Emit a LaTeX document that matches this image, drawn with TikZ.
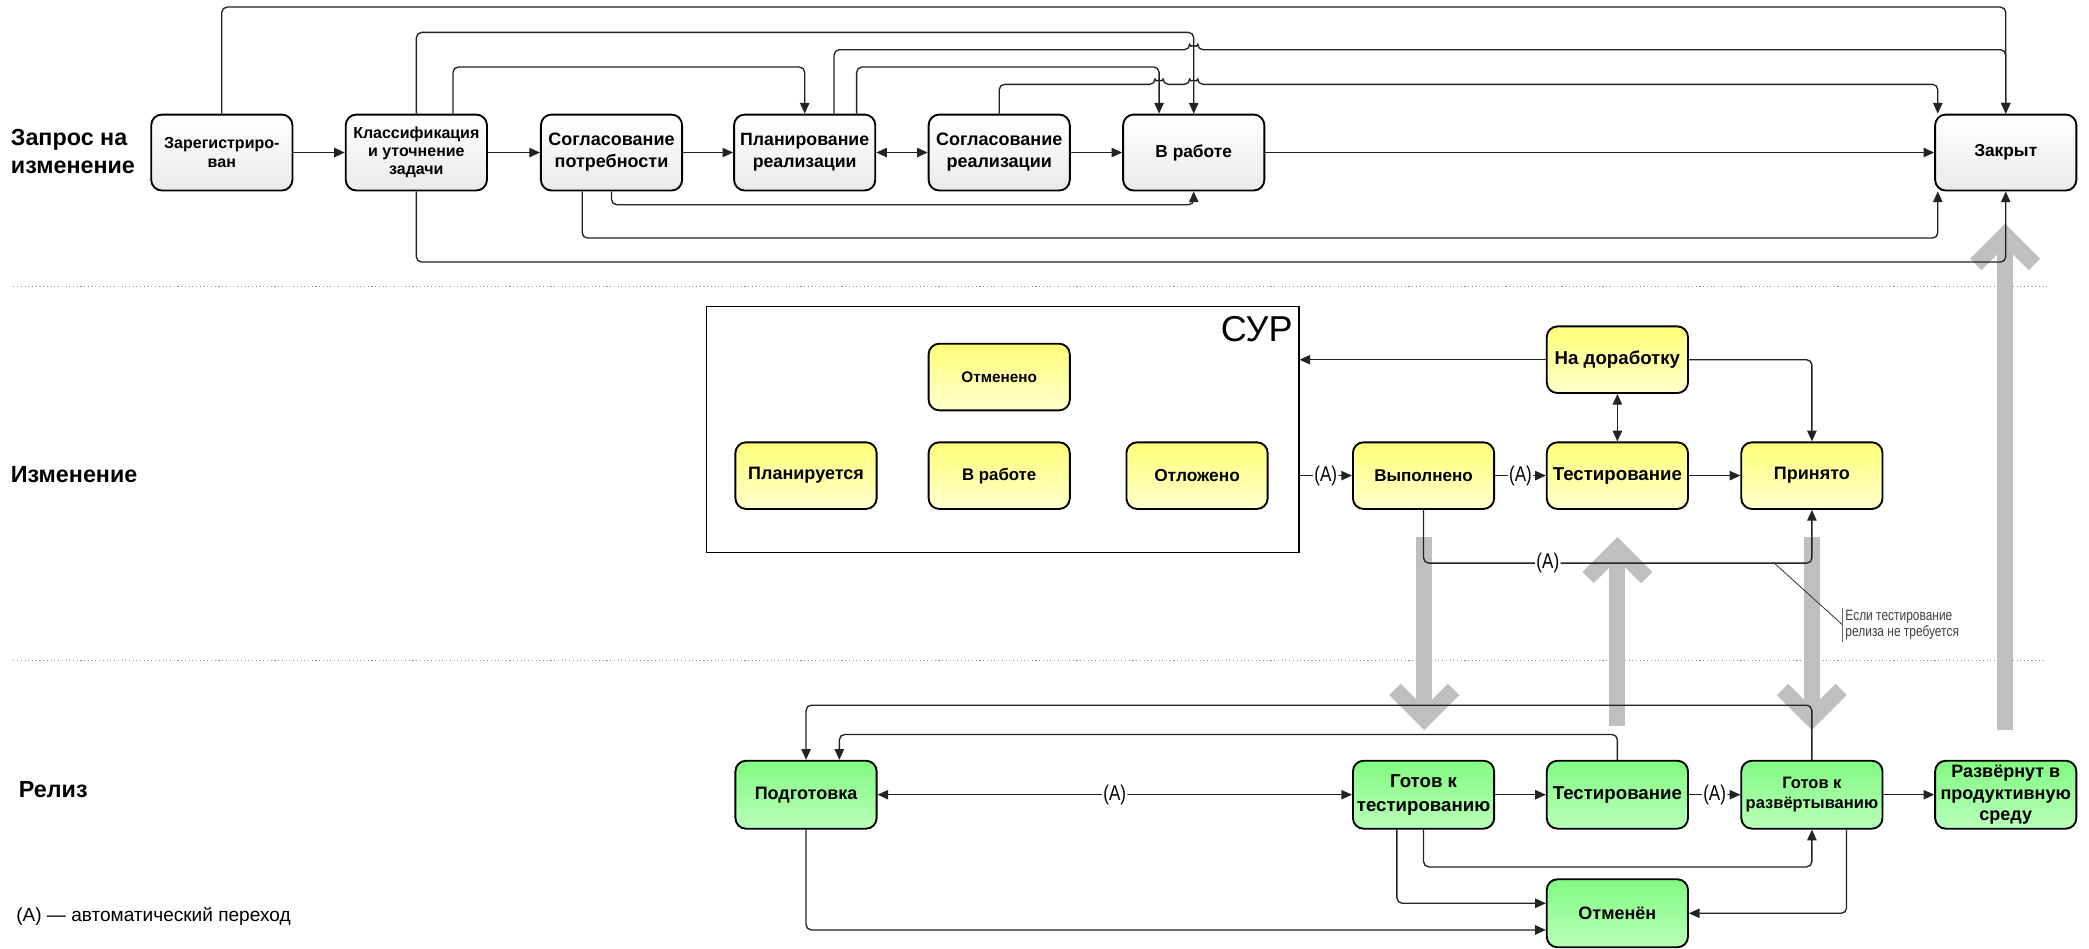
\documentclass[tikz,border=0pt]{standalone}
\usepackage{fontspec}
\setmainfont{Liberation Sans}
\newfontfamily\condf[FakeStretch=0.8]{Liberation Sans}
\usetikzlibrary{arrows.meta,calc}
\definecolor{yelT}{RGB}{255,255,120}
\definecolor{yelB}{RGB}{255,255,205}
\definecolor{grnT}{RGB}{130,250,130}
\definecolor{grnB}{RGB}{185,255,185}
\definecolor{gryB}{RGB}{234,234,234}
\definecolor{bigarr}{RGB}{191,191,191}
\definecolor{linec}{RGB}{35,35,35}
\tikzset{
  box/.style={draw=black, line width=1.4pt, rounded corners=8pt, minimum width=106pt, align=center, inner sep=1pt, font=\bfseries\fontsize{13.5}{16.5}\selectfont},
  graybox/.style={box, minimum height=57pt, top color=white, bottom color=gryB},
  yelbox/.style={box, minimum height=50pt, top color=yelT, bottom color=yelB},
  grnbox/.style={box, minimum height=51pt, top color=grnT, bottom color=grnB},
  flow/.style={draw=linec, line width=1pt, rounded corners=4pt, -{Triangle[length=8pt,width=7pt]}},
  dflow/.style={flow, {Triangle[length=8pt,width=7pt]}-{Triangle[length=8pt,width=7pt]}},
  albl/.style={fill=white, inner sep=1pt, font=\condf\fontsize{16}{16}\selectfont},
  lane/.style={anchor=west, align=left, inner sep=0pt, font=\bfseries\fontsize{17.5}{21}\selectfont},
  sep/.style={draw=black!45, line width=0.8pt, dotted},
  bigarrow/.style={draw=bigarr, line width=12pt, line join=miter},
}
\begin{document}
\begin{tikzpicture}[x=1pt,y=-1pt]
\useasboundingbox (0,0) rectangle (1568,712);
\fill[white] (0,0) rectangle (1568,712);

% lane separators
\draw[sep] (10,215) -- (1538,215);
\draw[sep] (10,496) -- (1535,496);

% big gray arrows
\draw[bigarrow] (1505,548) -- (1505,176.5);
\draw[bigarrow] (1483,198.5) -- (1505,176.5) -- (1527,198.5);
\draw[bigarrow] (1069,403) -- (1069,539.5);
\draw[bigarrow] (1047,517.5) -- (1069,539.5) -- (1091,517.5);
\draw[bigarrow] (1214,545) -- (1214,411.5);
\draw[bigarrow] (1192,433.5) -- (1214,411.5) -- (1236,433.5);
\draw[bigarrow] (1360,403) -- (1360,539.5);
\draw[bigarrow] (1338,517.5) -- (1360,539.5) -- (1382,517.5);

% lane labels
\node[lane] (l1) at (8,114) {Запрос на\\изменение};
\node[lane] (l2) at (8,356) {Изменение};
\node[lane] (l3) at (14,593) {Релиз};
\node[anchor=west, inner sep=0pt, font=\fontsize{14.3}{14.3}\selectfont] (legend) at (12,688) {(A) — автоматический переход};

% top row
\node[graybox, font=\bfseries\fontsize{12}{14}\selectfont] (zareg) at (166.5,114.5) {Зарегистриро-\\ван};
\node[graybox, font=\bfseries\fontsize{12}{13.5}\selectfont] (klass) at (312.5,114.5) {Классификация\\и уточнение\\задачи};
\node[graybox] (soglp) at (459,114.5) {Согласование\\потребности};
\node[graybox, font=\bfseries\fontsize{13.3}{16.5}\selectfont] (plan) at (604,114.5) {Планирование\\реализации};
\node[graybox] (soglr) at (750,114.5) {Согласование\\реализации};
\node[graybox, font=\bfseries\fontsize{13}{16}\selectfont] (vrab) at (896,114.5) {В работе};
\node[graybox, font=\bfseries\fontsize{13}{16}\selectfont] (zakr) at (1505.5,114.5) {Закрыт};

% middle
\node[draw=black, line width=0.8pt, minimum width=445pt, minimum height=185pt, inner sep=0pt] (sur) at (752.5,322.5) {};
\node[anchor=north east, inner sep=0pt, font=\fontsize{27}{27}\selectfont] (surlbl) at ([xshift=-5pt,yshift=-8pt]sur.north east) {СУР};
\node[yelbox, font=\bfseries\fontsize{11.5}{14}\selectfont] (otmn) at (750,283) {Отменено};
\node[yelbox] (planir) at (605,357) {Планируется};
\node[yelbox, font=\bfseries\fontsize{12.6}{15}\selectfont] (vrabm) at (750,357) {В работе};
\node[yelbox, font=\bfseries\fontsize{13}{15}\selectfont] (otloz) at (898.5,357) {Отложено};
\node[yelbox, font=\bfseries\fontsize{12.8}{15}\selectfont] (vypol) at (1068.5,357) {Выполнено};
\node[yelbox, font=\bfseries\fontsize{14}{16}\selectfont] (testm) at (1214,357) {Тестирование};
\node[yelbox] (prin) at (1360,357) {Принято};
\node[yelbox, font=\bfseries\fontsize{14}{16}\selectfont] (nador) at (1214,270) {На доработку};

% bottom
\node[grnbox] (podg) at (605,596.5) {Подготовка};
\node[grnbox, font=\bfseries\fontsize{14}{18}\selectfont] (gkt) at (1068.5,596.5) {Готов к\\тестированию};
\node[grnbox, font=\bfseries\fontsize{14}{16}\selectfont] (testr) at (1214,596.5) {Тестирование};
\node[grnbox, font=\bfseries\fontsize{12.4}{15}\selectfont] (gkr) at (1360,596.5) {Готов к\\развёртыванию};
\node[grnbox, font=\bfseries\fontsize{13.5}{16}\selectfont] (razv) at (1505.5,596.5) {Развёрнут в\\продуктивную\\среду};
\node[grnbox] (otmen) at (1214,685.5) {Отменён};

% top connectors
\draw[flow] (zareg.east) -- (klass.west);
\draw[flow] (klass.east) -- (soglp.west);
\draw[flow] (soglp.east) -- (plan.west);
\draw[dflow] (plan.east) -- (soglr.west);
\draw[flow] (soglr.east) -- (vrab.west);
\draw[flow] (vrab.east) -- (zakr.west);
\draw[flow] (zareg.north) -- ++(0,-80) -| (zakr.north);
\draw[flow] (klass.north) -- ++(0,-61) -| (vrab.north);
\draw[flow] ([xshift=27.5pt]klass.north) -- ++(0,-35) -| (plan.north);
\draw[flow] ([xshift=39pt]plan.north) -- ++(0,-35) -| ([xshift=-26pt]vrab.north);
\draw[flow] ([xshift=22pt]plan.north) -- ++(0,-48) -- ++(267,0) arc[start angle=180,end angle=0,radius=3pt] -| (zakr.north);
\draw[flow] (soglr.north) -- ++(0,-22) -- ++(117,0) arc[start angle=180,end angle=0,radius=3pt] -- ++(20,0) arc[start angle=180,end angle=0,radius=3pt] -| ([xshift=-51pt]zakr.north);
\draw[flow] (soglp.south) -- ++(0,10) -| (vrab.south);
\draw[flow] ([xshift=-22pt]soglp.south) -- ++(0,35) -| ([xshift=-51pt]zakr.south);
\draw[flow] (klass.south) -- ++(0,53) -| (zakr.south);

% middle connectors
\draw[flow] (sur.east |- vypol.west) -- node[albl]{(A)} (vypol.west);
\draw[flow] (vypol.east) -- node[albl]{(A)} (testm.west);
\draw[flow] (testm.east) -- (prin.west);
\draw[dflow] (nador.south) -- (testm.north);
\draw[flow] (nador.west) -- (nador.west -| sur.east);
\draw[flow] (nador.east) -| (prin.north);
\draw[flow] (vypol.south) -- ++(0,40) -| node[albl,pos=0.16]{(A)} (prin.south);

% annotation
\coordinate (annA) at (1331,422);
\node[anchor=west, inner sep=2pt, align=left, font=\condf\fontsize{11.2}{11.5}\selectfont, text=black!75] (note) at (1383,469) {Если тестирование\\релиза не требуется};
\draw[black!80, line width=0.6pt] (annA) -- (note.west);
\draw[black!60, line width=0.6pt] (note.north west) -- (note.south west);

% bottom connectors
\draw[dflow] (podg.east) -- node[albl]{(A)} (gkt.west);
\draw[flow] (gkt.east) -- (testr.west);
\draw[flow] (testr.east) -- node[albl]{(A)} (gkr.west);
\draw[flow] (gkr.east) -- (razv.west);
\draw[flow] (gkr.north) -- ++(0,-41) -| (podg.north);
\draw[flow] (testr.north) -- ++(0,-19) -| ([xshift=25pt]podg.north);
\draw[flow] (gkt.south) -- ++(0,28) -| (gkr.south);
\draw[flow] ([xshift=-20pt]gkt.south) |- ([yshift=7.5pt]otmen.west);
\draw[flow] (podg.south) |- ([yshift=-12.5pt]otmen.west);
\draw[flow] ([xshift=26pt]gkr.south) |- (otmen.east);
\end{tikzpicture}
\end{document}
